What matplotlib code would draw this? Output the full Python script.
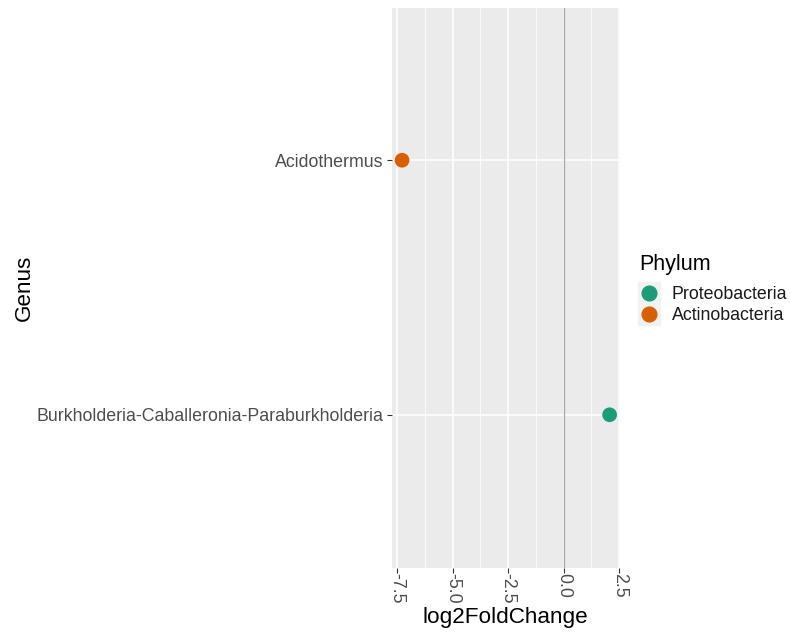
import matplotlib
matplotlib.use("Agg")
import matplotlib.pyplot as plt
from matplotlib.lines import Line2D
from matplotlib.legend_handler import HandlerTuple
from matplotlib.ticker import MultipleLocator

plt.rcParams['font.family'] = ['Liberation Sans', 'DejaVu Sans']

# DESeq2 result: significant genera
genus = ["Burkholderia-Caballeronia-Paraburkholderia", "Acidothermus"]
log2fc = [2.07, -7.27]
phylum = ["Proteobacteria", "Actinobacteria"]
phylum_order = ["Proteobacteria", "Actinobacteria"]
phylum_colors = {"Proteobacteria": "#1B9E77", "Actinobacteria": "#D95F02"}

fig = plt.figure(figsize=(7.9, 6.33), dpi=100)
ax = fig.add_axes([391.7 / 790, 1 - 567.5 / 633, (620 - 391.7) / 790, (567.5 - 7.5) / 633])
ax.set_facecolor("#EBEBEB")

# y positions follow genus order (first one at the bottom)
ypos = list(range(len(genus)))
cols = [phylum_colors[p] for p in phylum]
ax.scatter(log2fc, ypos, s=112, c=cols, linewidths=0, zorder=4)
ax.axvline(0, color="#A6A6A6", lw=0.9, zorder=3)

span = max(log2fc) - min(log2fc)
ax.set_xlim(min(log2fc) - 0.05 * span, max(log2fc) + 0.05 * span)
ax.set_ylim(-0.6, len(genus) - 1 + 0.6)

ax.xaxis.set_major_locator(MultipleLocator(2.5))
ax.xaxis.set_minor_locator(MultipleLocator(1.25))
ax.set_yticks(ypos)
ax.set_yticklabels(genus)
ax.xaxis.set_major_formatter(plt.FuncFormatter(lambda v, p: f"{v:.1f}"))

ax.grid(which="major", color="white", lw=1.1, zorder=1)
ax.grid(which="minor", axis="x", color="white", lw=0.55, zorder=1)
ax.set_axisbelow(True)
for s in ax.spines.values():
    s.set_visible(False)

ax.tick_params(axis="both", which="major", length=3.8, width=0.8, color="#333333",
               labelcolor="#4D4D4D", labelsize=12.8, pad=2)
ax.tick_params(axis="x", which="major", pad=0.5)
ax.tick_params(axis="x", which="minor", length=0)
ax.tick_params(axis="x", labelrotation=-90)
for lbl in ax.get_xticklabels():
    lbl.set_va("top")
    lbl.set_ha("center")

ax.set_xlabel("log2FoldChange", fontsize=16.2, va="center")
ax.set_ylabel("Genus", fontsize=16.2, va="center")
ax.xaxis.set_label_coords(0.5, (567.5 - 617) / 560)
ax.yaxis.set_label_coords((24 - 391.7) / 228.3, 0.5)

# legend keys on grey squares like ggplot
handles = []
for p in phylum_order:
    bg = Line2D([], [], marker="s", ms=16, color="#F2F2F2", ls="none")
    dot = Line2D([], [], marker="o", ms=10.6, color=phylum_colors[p], ls="none")
    handles.append((bg, dot))
fig.text(639 / 790, 1 - 265 / 633, "Phylum", fontsize=15.5, va="center", ha="left")
leg = fig.legend(handles, phylum_order, loc="center left",
                 bbox_to_anchor=(638 / 790, 1 - 305 / 633), frameon=False,
                 handler_map={tuple: HandlerTuple(ndivide=1)},
                 fontsize=12.8, handlelength=1.2, handletextpad=0.7,
                 labelspacing=0.2, borderaxespad=0, borderpad=0)
for t in leg.get_texts():
    t.set_color("#1A1A1A")

fig.savefig("out.png", dpi=100)
